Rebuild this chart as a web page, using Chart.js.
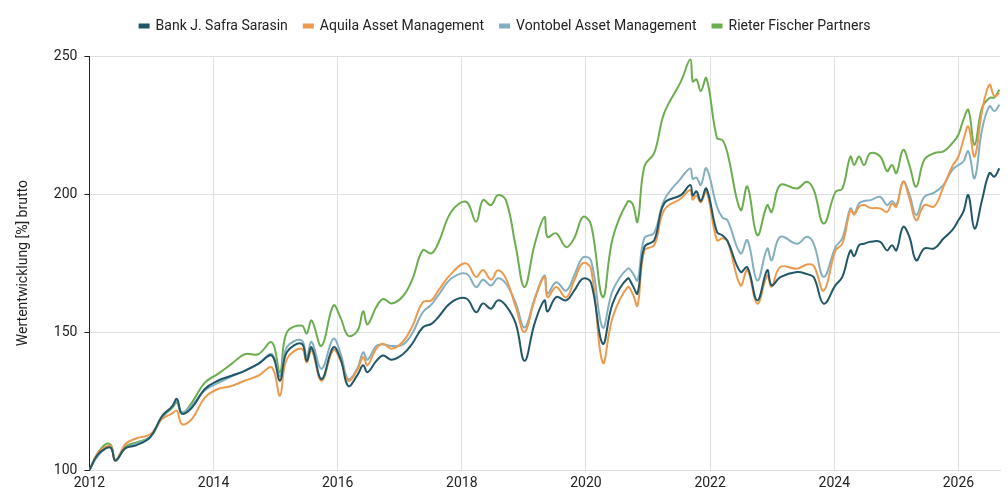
<!DOCTYPE html>
<html>
<head>
<meta charset="utf-8">
<script src="https://cdn.jsdelivr.net/npm/chart.js@4.4.1/dist/chart.umd.min.js"></script>
<style>
  body { margin: 0; background: #fff; }
  #wrap { width: 1008px; height: 501px; }
</style>
</head>
<body>
<div id="wrap"><canvas id="chart"></canvas></div>
<script>
// decimal years, shared by all four series
const dates = [
  2012.00, 2012.13, 2012.27, 2012.35, 2012.42, 2012.58, 2012.75, 2012.98,
  2013.17, 2013.33, 2013.41, 2013.49, 2013.65, 2013.86, 2014.07, 2014.29,
  2014.50, 2014.72, 2014.94, 2015.07, 2015.18, 2015.42, 2015.50, 2015.58,
  2015.74, 2015.93, 2016.05, 2016.17, 2016.32, 2016.41, 2016.48, 2016.62,
  2016.73, 2016.87, 2017.05, 2017.20, 2017.37, 2017.51, 2017.62, 2017.83,
  2018.07, 2018.23, 2018.34, 2018.47, 2018.58, 2018.71, 2018.87, 2019.01,
  2019.17, 2019.33, 2019.38, 2019.52, 2019.68, 2019.81, 2019.95, 2020.08,
  2020.27, 2020.43, 2020.67, 2020.75, 2020.83, 2020.94, 2021.10, 2021.26,
  2021.53, 2021.68, 2021.72, 2021.78, 2021.85, 2021.94, 2022.11, 2022.20,
  2022.28, 2022.49, 2022.60, 2022.76, 2022.92, 2022.99, 2023.13, 2023.40,
  2023.56, 2023.67, 2023.83, 2024.02, 2024.13, 2024.26, 2024.32, 2024.40,
  2024.48, 2024.58, 2024.74, 2024.85, 2024.93, 2025.00, 2025.11, 2025.21,
  2025.32, 2025.45, 2025.61, 2025.76, 2025.90, 2026.00, 2026.08, 2026.16,
  2026.26, 2026.38, 2026.50, 2026.58, 2026.66
];

const safra = [
  100, 105.5, 108, 108, 103.5, 108, 109, 112,
  119.6, 123, 125.8, 120.5, 122.6, 129.4, 132.4, 134.2,
  136, 138.5, 141.5, 132.4, 142.7, 145.8, 139.6, 144.5,
  133, 144.5, 140, 130.5, 134.5, 138, 135.5, 139.5,
  141.5, 140, 142, 145.8, 151.7, 153, 155.4, 160.8,
  162.2, 157.2, 160.4, 158.5, 161.5, 159.6, 153, 139.6,
  153, 161.5, 157.5, 162.7, 161.5, 165, 169.4, 168,
  145.8, 160.4, 169.4, 167, 164, 180.8, 183.3, 196.6,
  199.6, 203.3, 199.5, 201, 197.5, 202, 186.3, 185,
  183, 171.8, 173.5, 161.5, 172.4, 166.9, 169.9, 171.8,
  171, 169.9, 160.3, 167, 170, 179.6, 177.5, 181.5,
  182, 182.7, 182.7, 179.6, 181.5, 179.6, 188.1, 184.5,
  176, 180.3, 180.3, 183.9, 186.9, 190.5, 193.6, 199.6,
  187.5, 197.8, 207.6, 206.3, 209.3
];

const aquila = [
  100, 106, 108.5, 108.7, 103.3, 109.5, 111.5, 113,
  118.5, 120.5, 121.5, 116.7, 118.5, 126.3, 129.4, 130.5,
  132.4, 134.2, 137.2, 127, 140.2, 144, 139, 143.5,
  132.4, 143.5, 139.5, 132.4, 136.5, 141, 138, 144,
  145.8, 144, 146.5, 152, 160.8, 161.5, 165, 171.2,
  174.9, 170, 172.5, 169, 172.4, 169.4, 159, 150,
  161.5, 170, 162.7, 166.3, 162.5, 168.7, 175, 173,
  139, 155.4, 166.3, 164, 159.6, 179.6, 181.5, 194.2,
  198.4, 201.5, 198, 199.5, 197, 201, 183.3, 184,
  183, 166.9, 172.5, 160.3, 170.5, 166.5, 173.6, 173,
  174.5, 174, 165, 179.6, 182, 194.2, 192.5, 195.4,
  196, 195, 194.8, 193.5, 196.5, 195.4, 204.5, 198.5,
  190.5, 196, 195.5, 202.7, 210, 213.6, 219.6, 224.5,
  213.6, 230, 239.6, 235.4, 236.6
];

const vontobel = [
  100, 105, 108, 108, 103.5, 108, 109.5, 112,
  119, 123, 125, 121, 123.5, 129, 131.5, 134,
  136, 138.5, 142, 134, 144.5, 147, 141, 146.5,
  136.7, 147.6, 142, 133, 137, 142.7, 140, 145,
  145.5, 145, 145.5, 149.5, 157.2, 160, 163.3, 169.4,
  171.2, 166.3, 169, 166.9, 169.5, 167.6, 160.4, 151.7,
  162, 170.5, 164, 168.1, 165, 170.5, 177, 176,
  151.7, 165, 173, 171.5, 168.7, 184, 186, 197.8,
  205.7, 209.3, 205.5, 206, 203.3, 209.3, 195.4, 191.5,
  190.5, 178.5, 183.3, 168.7, 180.3, 176, 184.5, 182,
  184.5, 182, 170, 180.8, 184, 194.8, 193, 196.6,
  197.5, 197.8, 199, 196, 197.5, 196, 204.5, 200,
  192.4, 199, 200.5, 203.3, 208.7, 210.5, 211.8, 215.5,
  205.7, 223.3, 231.8, 230, 232.4
];

const rieter = [
  100, 106, 109.5, 109, 103.8, 108.5, 110, 112,
  119, 122.5, 124.5, 120.5, 124.5, 131.7, 134.9, 138.5,
  142, 142, 146.3, 135.4, 149.9, 152.4, 149.5, 154.2,
  145, 159.6, 155, 148.7, 150.5, 157.5, 152.8, 159,
  162, 160.4, 163, 169, 179.6, 178.5, 182.2, 193.6,
  197.2, 190, 197.8, 196, 199.6, 197.8, 180.8, 166.3,
  181.5, 191.7, 184.5, 185.8, 180.8, 184, 191.7, 189,
  162.7, 184, 197.2, 196.5, 190, 210, 214.9, 229.3,
  240.8, 248.7, 240.8, 241.5, 237.3, 242, 220.3, 219.5,
  214.8, 194.2, 202.7, 185.1, 196, 193.5, 203.3, 202,
  204.5, 201.5, 189.3, 200.8, 202, 213.6, 210.5, 213.6,
  210.5, 214.8, 213.6, 208.3, 210.5, 207.6, 216, 210.5,
  202.7, 212.4, 214.8, 215.5, 218.4, 221.5, 226.9, 230.5,
  217.8, 231.2, 234.8, 235, 237.8
];

const seriesNames = ['Bank J. Safra Sarasin', 'Aquila Asset Management', 'Vontobel Asset Management', 'Rieter Fischer Partners'];
const seriesColors = ['#215767', '#ec9a4d', '#84afbf', '#6cad4f'];
const seriesValues = [safra, aquila, vontobel, rieter];

const yTicks = [100, 150, 200, 250];
const xStart = 2012;
const xEnd = 2026.67;

const datasets = seriesValues.map((vals, i) => ({
  label: seriesNames[i],
  data: dates.map((d, k) => ({ x: d, y: vals[k] })),
  borderColor: seriesColors[i],
  backgroundColor: seriesColors[i],
  borderWidth: 2,
  pointRadius: 0,
  tension: 0.4
}));

// extra room between legend and plot
const legendGap = {
  id: 'legendGap',
  beforeInit(chart) {
    const fit = chart.legend.fit;
    chart.legend.fit = function () {
      fit.bind(chart.legend)();
      this.height += 13;
    };
  }
};

Chart.defaults.font.family = 'Roboto, sans-serif';
Chart.defaults.font.size = 14;
Chart.defaults.color = '#222';

new Chart(document.getElementById('chart'), {
  type: 'line',
  data: { datasets },
  plugins: [legendGap],
  options: {
    responsive: true,
    maintainAspectRatio: false,
    animation: false,
    layout: { padding: { left: 10, right: 8, top: 3, bottom: 4 } },
    plugins: {
      legend: {
        position: 'top',
        labels: { boxWidth: 9, boxHeight: 3, padding: 16, color: '#222' }
      },
      tooltip: { enabled: false }
    },
    scales: {
      x: {
        type: 'linear',
        min: xStart,
        max: xEnd,
        border: { color: '#dddddd' },
        grid: { color: '#e0e0e0', drawTicks: false },
        ticks: {
          stepSize: 2,
          includeBounds: false,
          padding: 5,
          color: '#222',
          callback: v => String(v)
        }
      },
      y: {
        min: 100,
        max: 250,
        border: { color: '#222' },
        grid: { color: '#e0e0e0', tickColor: '#222', tickLength: 5 },
        afterBuildTicks: axis => { axis.ticks = yTicks.map(v => ({ value: v })); },
        ticks: { padding: 7, color: '#222' },
        title: {
          display: true,
          text: 'Wertentwicklung [%] brutto',
          color: '#222',
          padding: { top: 5, bottom: 15 }
        }
      }
    }
  }
});
</script>
</body>
</html>
